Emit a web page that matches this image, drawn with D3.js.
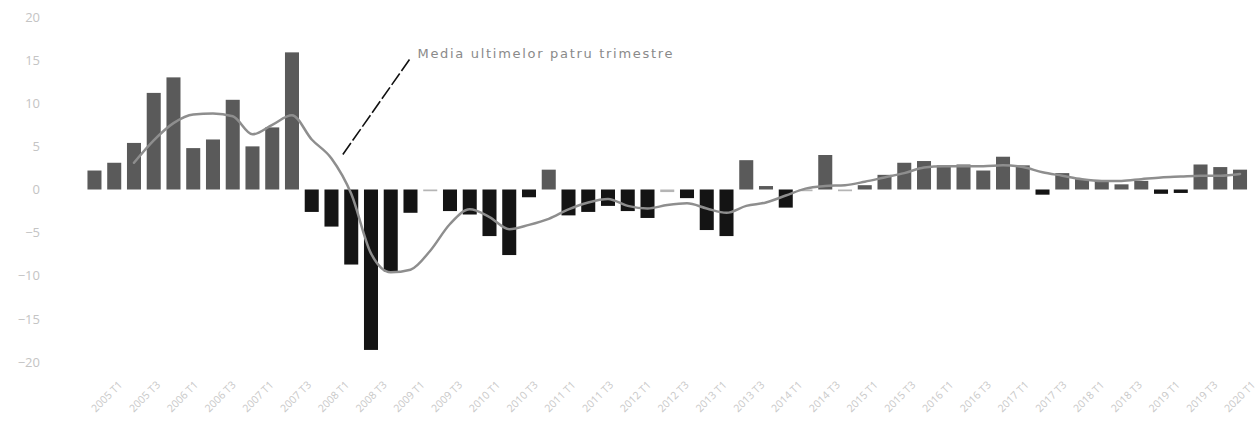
<!DOCTYPE html>
<html>
<head>
<meta charset="utf-8">
<script src="https://cdn.jsdelivr.net/npm/d3@7"></script>
<style>
  html, body { margin: 0; padding: 0; background: #ffffff; }
  svg { display: block; }
</style>
</head>
<body>
<svg id="chart" width="1259" height="434"></svg>
<script>
const quarters = [
  "2005 T1","2005 T2","2005 T3","2005 T4",
  "2006 T1","2006 T2","2006 T3","2006 T4",
  "2007 T1","2007 T2","2007 T3","2007 T4",
  "2008 T1","2008 T2","2008 T3","2008 T4",
  "2009 T1","2009 T2","2009 T3","2009 T4",
  "2010 T1","2010 T2","2010 T3","2010 T4",
  "2011 T1","2011 T2","2011 T3","2011 T4",
  "2012 T1","2012 T2","2012 T3","2012 T4",
  "2013 T1","2013 T2","2013 T3","2013 T4",
  "2014 T1","2014 T2","2014 T3","2014 T4",
  "2015 T1","2015 T2","2015 T3","2015 T4",
  "2016 T1","2016 T2","2016 T3","2016 T4",
  "2017 T1","2017 T2","2017 T3","2017 T4",
  "2018 T1","2018 T2","2018 T3","2018 T4",
  "2019 T1","2019 T2","2019 T3"
];

const quarterlyValues = [
  2.2, 3.1, 5.4, 11.2, 13.0, 4.8, 5.8, 10.4, 5.0, 7.2,
  15.9, -2.6, -4.3, -8.7, -18.6, -9.5, -2.7, -0.2, -2.5, -2.9,
  -5.4, -7.6, -0.9, 2.3, -3.0, -2.6, -1.9, -2.5, -3.3, -0.3,
  -1.0, -4.7, -5.4, 3.4, 0.4, -2.1, -0.2, 4.0, -0.2, 0.5,
  1.7, 3.1, 3.3, 2.8, 2.9, 2.2, 3.8, 2.8, -0.6, 1.9,
  1.2, 1.1, 0.6, 1.0, -0.5, -0.4, 2.9, 2.6, 2.3
];

const movingAverage = [
  null, null, 3.1, 5.7, 7.7, 8.7, 8.8, 8.5, 6.4, 7.5,
  8.6, 5.8, 3.6, -0.5, -7.4, -9.6, -9.3, -7.1, -4.0, -2.3,
  -3.2, -4.6, -4.1, -3.4, -2.3, -1.5, -1.1, -1.9, -2.2, -1.8,
  -1.6, -2.2, -2.7, -1.9, -1.5, -0.7, 0.1, 0.4, 0.5, 0.9,
  1.4, 1.9, 2.55, 2.7, 2.7, 2.7, 2.8, 2.6, 2.0, 1.6,
  1.2, 1.0, 1.0, 1.2, 1.4, 1.5, 1.6, 1.6, 1.8
];

const tickLabels = [
  "2005 T1","2005 T3","2006 T1","2006 T3","2007 T1","2007 T3",
  "2008 T1","2008 T3","2009 T1","2009 T3","2010 T1","2010 T3",
  "2011 T1","2011 T3","2012 T1","2012 T3","2013 T1","2013 T3",
  "2014 T1","2014 T3","2015 T1","2015 T3","2016 T1","2016 T3",
  "2017 T1","2017 T3","2018 T1","2018 T3","2019 T1","2019 T3",
  "2020 T1"
];

const yTicks = [20, 15, 10, 5, 0, -5, -10, -15, -20];
const annotationText = "Media ultimelor patru trimestre";
// annotation anchor (quarter and values at which the leader line starts/ends)
const annotationTipQuarter = "2008 T1";
const annotationTipValue = 4;
const annotationTextValue = 15.3;

const svg = d3.select("#chart");

const x = d3.scaleBand()
  .domain(quarters)
  .range([84.6, 1249.9])
  .paddingInner(0.29)
  .paddingOuter(0.145);

const y = d3.scaleLinear().domain([-20, 20]).range([362, 17]);

// Y axis labels
const yAxis = d3.axisLeft(y).tickValues(yTicks).tickSize(0).tickPadding(0);
const gy = svg.append("g").attr("transform", "translate(40,0)").call(yAxis);
gy.select(".domain").remove();
gy.selectAll("text")
  .attr("fill", "#c4c4c4")
  .attr("font-family", "'Open Sans', 'DejaVu Sans', sans-serif")
  .attr("font-size", 13);

// Bars
const barColor = v => v > 0 ? "#5a5a5a" : (v < -0.35 ? "#141414" : "#b5b5b5");
svg.append("g")
  .selectAll("rect")
  .data(quarters.map((q, i) => ({ q, v: quarterlyValues[i] })))
  .join("rect")
  .attr("x", d => x(d.q))
  .attr("width", x.bandwidth())
  .attr("y", d => Math.min(y(d.v), y(0)))
  .attr("height", d => Math.max(1.5, Math.abs(y(d.v) - y(0))))
  .attr("fill", d => barColor(d.v));

// Moving average line
const line = d3.line()
  .defined(d => d.v !== null)
  .x(d => x(d.q) + x.bandwidth() / 2)
  .y(d => y(d.v))
  .curve(d3.curveMonotoneX);

svg.append("path")
  .datum(quarters.map((q, i) => ({ q, v: movingAverage[i] })))
  .attr("d", line)
  .attr("fill", "none")
  .attr("stroke", "#8e8e8e")
  .attr("stroke-width", 2.5)
  .attr("stroke-linejoin", "round")
  .attr("stroke-linecap", "round");

// X axis labels (separate point scale for the label row)
const xl = d3.scalePoint().domain(tickLabels).range([120, 1253]);
const xAxis = d3.axisBottom(xl).tickSize(0).tickPadding(0);
const gx = svg.append("g").attr("transform", "translate(0,383)").call(xAxis);
gx.select(".domain").remove();
gx.selectAll("text")
  .attr("fill", "#c8c8c8")
  .attr("font-family", "'Open Sans', 'DejaVu Sans', sans-serif")
  .attr("font-size", 10.5)
  .attr("text-anchor", "end")
  .attr("dy", "0.35em")
  .attr("transform", "rotate(-45)");

// Annotation
const tipX = x(annotationTipQuarter) + x.bandwidth() / 2 + 11;
const tipY = y(annotationTipValue);
const textX = tipX + 75;
const textY = y(annotationTextValue);

svg.append("text")
  .attr("x", textX)
  .attr("y", textY)
  .attr("fill", "#8a8a8a")
  .attr("font-family", "'DejaVu Sans', sans-serif")
  .attr("font-size", 13)
  .attr("textLength", 255)
  .attr("lengthAdjust", "spacing")
  .text(annotationText);

svg.append("line")
  .attr("x1", textX - 8)
  .attr("y1", textY + 2)
  .attr("x2", tipX)
  .attr("y2", tipY)
  .attr("stroke", "#111")
  .attr("stroke-width", 1.6)
  .attr("stroke-dasharray", "14,3");
</script>
</body>
</html>
